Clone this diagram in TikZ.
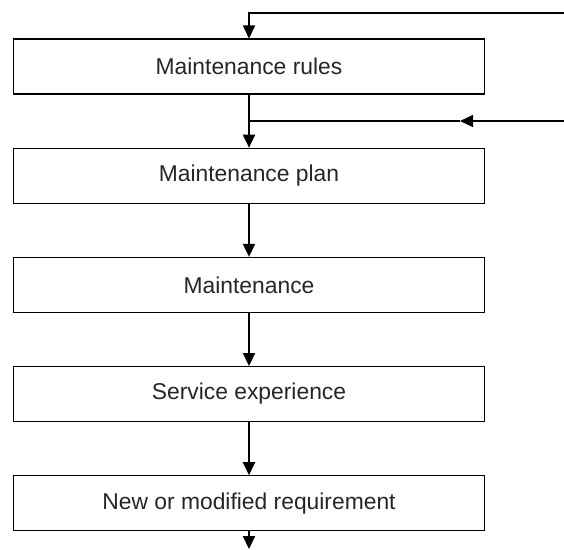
\documentclass[tikz,border=0pt]{standalone}
\usepackage{fontspec}
\setmainfont{Liberation Sans}
\usetikzlibrary{positioning}
\usetikzlibrary{arrows.meta}

\tikzset{
    stagebox/.style={draw, line width=0.6pt, minimum width=9.44cm, minimum height=1.1cm,
        inner sep=0pt, font=\fontsize{13}{15}\selectfont, text=black!85},
    flow/.style={line width=1.1pt, -{Triangle[length=0.26cm,width=0.24cm]}},
    feed/.style={line width=0.6pt},
}

\begin{document}
\begin{tikzpicture}[x=0.02cm, y=-0.02cm, node distance=1.063cm]
    \useasboundingbox (0,0) rectangle (564,549);

    % Draw the chain of boxes
    \node[stagebox] (rules) at (249,66.5) {Maintenance rules};
    \node[stagebox, below=of rules] (plan) {Maintenance plan};
    \node[stagebox, below=of plan] (maint) {Maintenance};
    \node[stagebox, below=of maint] (exper) {Service experience};
    \node[stagebox, below=of exper] (req) {New or modified requirement};

    % Draw arrows between boxes
    \foreach \a/\b in {rules/plan, plan/maint, maint/exper, exper/req} {
        \draw[flow] (\a.south) -- (\b.north);
    }
    \coordinate (outB) at (249,549);
    \draw[flow] (req.south) -- (outB);

    % Draw inputs coming from the right
    \coordinate (topR) at (564,13);
    \coordinate (topL) at (249,13);
    \draw[feed, line width=0.9pt, -{Triangle[length=0.26cm,width=0.24cm]}] (topR) -- (topL) -- (rules.north);
    \coordinate (sideR) at (564,121);
    \coordinate (sideM) at (460,121);
    \coordinate (sideJ) at (249,121);
    \draw[feed, -{Triangle[length=0.26cm,width=0.24cm]}] (sideR) -- (sideM);
    \draw[feed] (sideM) -- (sideJ);
\end{tikzpicture}
\end{document}
